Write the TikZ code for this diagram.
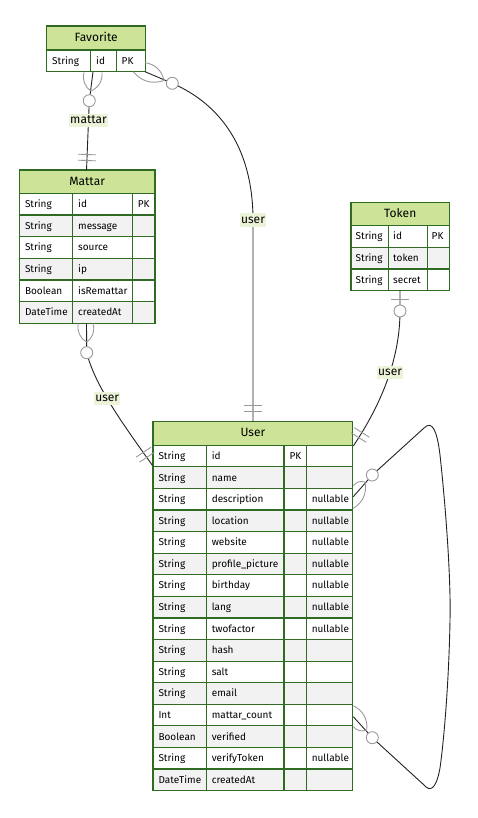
\documentclass[tikz,border=0pt]{standalone}
\usepackage{fontspec}
\setmainfont{Fira Sans}
\definecolor{hdr}{HTML}{CDE498}
\definecolor{bdr}{HTML}{2F6B22}
\definecolor{alt}{HTML}{F2F2F2}
\definecolor{mkc}{HTML}{9A9A9A}
\definecolor{lnc}{HTML}{222222}
\definecolor{lbl}{HTML}{EBF3D8}
\tikzset{
  cell/.style={draw=bdr, line width=1.2pt},
  ct/.style={anchor=base west, inner sep=0pt, font=\fontsize{10}{12}\selectfont, text=black},
  ht/.style={anchor=base, inner sep=0pt, font=\fontsize{12}{14}\selectfont, text=black},
  rel/.style={draw=lnc, line width=0.9pt},
  mk/.style={draw=mkc, line width=0.9pt},
  lab/.style={fill=lbl, inner xsep=1pt, inner ysep=1pt, text height=8.5pt, text depth=2.5pt,
              font=\fontsize{12}{14}\selectfont, text=black},
}
\newcommand\crowfoot[3]{\draw[mk] (#1) to[bend right=35] (#3); \draw[mk] (#2) to[bend left=35] (#3);}
\newcommand\ringmark[1]{\draw[mk, fill=white] (#1) circle (6pt);}
\newcommand\twobars[3]{\begin{scope}[shift={(#1,#2)}, rotate=-#3]
  \draw[mk] (10,-9) -- (10,9) (16,-9) -- (16,9);\end{scope}}
\begin{document}
\begin{tikzpicture}[x=1pt, y=-1pt]
\useasboundingbox (0,0) rectangle (478,818);

% ---------- Favorite ----------
\fill[hdr] (46.7,26) rectangle (145.7,50);
\draw[cell] (46.7,26) rectangle (145.7,50);
\node[ht] (fav) at (96.2,41.5) {Favorite};
\foreach \xa/\xb in {46.7/90.7, 90.7/116.3, 116.3/145.7}{\draw[cell, fill=white] (\xa,50) rectangle (\xb,71.7);}
\node[ct] (fav1a) at (52,64.2) {String};
\node[ct] (fav1b) at (96,64.2) {id};
\node[ct] (fav1c) at (121.5,64.2) {PK};

% ---------- Mattar ----------
\fill[hdr] (19.3,170) rectangle (155,193.3);
\draw[cell] (19.3,170) rectangle (155,193.3);
\node[ht] (mattar) at (87.1,185.2) {Mattar};
\foreach[count=\i] \ta/\tb/\tc in {String/id/PK, String/message/, String/source/, String/ip/, Boolean/isRemattar/, DateTime/createdAt/}{
  \pgfmathsetmacro\ya{193.3+(\i-1)*21.67}
  \pgfmathsetmacro\yb{\ya+21.67}
  \pgfmathsetmacro\yt{\ya+10.83+3.4}
  \ifodd\i\relax\def\fc{white}\else\def\fc{alt}\fi
  \foreach \xa/\xb in {19.3/72.7, 72.7/132.3, 132.3/155}{\draw[cell, fill=\fc] (\xa,\ya) rectangle (\xb,\yb);}
  \node[ct] (mat\i a) at (24.8,\yt) {\ta};
  \node[ct] (mat\i b) at (78,\yt) {\tb};
  \node[ct] (mat\i c) at (137.6,\yt) {\tc};
}

% ---------- Token ----------
\fill[hdr] (351,202.7) rectangle (449.3,225.7);
\draw[cell] (351,202.7) rectangle (449.3,225.7);
\node[ht] (token) at (400.2,217.6) {Token};
\foreach[count=\i] \ta/\tb/\tc in {String/id/PK, String/token/, String/secret/}{
  \pgfmathsetmacro\ya{225.7+(\i-1)*21.67}
  \pgfmathsetmacro\yb{\ya+21.67}
  \pgfmathsetmacro\yt{\ya+10.83+3.4}
  \ifodd\i\relax\def\fc{white}\else\def\fc{alt}\fi
  \foreach \xa/\xb in {351/388.3, 388.3/427.3, 427.3/449.3}{\draw[cell, fill=\fc] (\xa,\ya) rectangle (\xb,\yb);}
  \node[ct] (tok\i a) at (355.5,\yt) {\ta};
  \node[ct] (tok\i b) at (393,\yt) {\tb};
  \node[ct] (tok\i c) at (431.5,\yt) {\tc};
}

% ---------- User ----------
\fill[hdr] (153,421.7) rectangle (352.7,445.3);
\draw[cell] (153,421.7) rectangle (352.7,445.3);
\node[ht] (user) at (252.9,436.9) {User};
\foreach[count=\i] \ta/\tb/\tc/\td in {String/id/PK/, String/name//, String/description//nullable,
  String/location//nullable, String/website//nullable, String/profile\_picture//nullable,
  String/birthday//nullable, String/lang//nullable, String/twofactor//nullable, String/hash//,
  String/salt//, String/email//, Int/mattar\_count//, Boolean/verified//,
  String/verifyToken//nullable, DateTime/createdAt//}{
  \pgfmathsetmacro\ya{445.3+(\i-1)*21.58}
  \pgfmathsetmacro\yb{\ya+21.58}
  \pgfmathsetmacro\yt{\ya+10.79+3.4}
  \ifodd\i\relax\def\fc{white}\else\def\fc{alt}\fi
  \foreach \xa/\xb in {153/206.3, 206.3/284, 284/306.3, 306.3/352.7}{\draw[cell, fill=\fc] (\xa,\ya) rectangle (\xb,\yb);}
  \node[ct] (usr\i a) at (158.3,\yt) {\ta};
  \node[ct] (usr\i b) at (211.6,\yt) {\tb};
  \node[ct] (usr\i c) at (289.3,\yt) {\tc};
  \node[ct] (usr\i d) at (311.6,\yt) {\td};
}

% ---------- connector end points ----------
\coordinate (fm1) at (93,72);
\coordinate (fmC) at (89.3,100.7);
\coordinate (fm2) at (86.5,170.5);
\coordinate (fu1) at (145,71.7);
\coordinate (fuC) at (172.3,83.3);
\coordinate (fu2) at (253,421.7);
\coordinate (mu1) at (86.5,323.5);
\coordinate (muC) at (86.7,352.7);
\coordinate (mu2) at (152.5,465.5);
\coordinate (tu1) at (400,290.7);
\coordinate (tuC) at (400,311);
\coordinate (tu2) at (353.3,446);
\coordinate (uu1) at (353.3,496.7);
\coordinate (uuC1) at (372.3,475);
\coordinate (uu2) at (353.3,716.7);
\coordinate (uuC2) at (372.3,737.7);

% ---------- connectors ----------
\draw[rel] (fm1) -- (fmC) -- node[lab, pos=0.286] (lbl1) {mattar} (fm2);
\draw[rel] (fu1) -- (fuC) .. controls (222,105) and (253,150) .. (253,220) node[lab] (lbl2) {user} -- (fu2);
\draw[rel] (mu1) -- (muC) .. controls (95,385) and (120,420) .. node[lab, pos=0.45] (lbl3) {user} (mu2);
\draw[rel] (tu1) -- (tuC) .. controls (400,365) and (376,412) .. node[lab, pos=0.4] (lbl4) {user} (tu2);
\draw[rel] (uu1) -- (uuC1) -- (424,428) .. controls (432,420) and (437,430) .. (440,455)
  .. controls (446,510) and (451,580) .. (450,620) .. controls (449,680) and (444,740) .. (440,768)
  .. controls (436,790) and (430,792) .. (424,785) -- (uuC2) -- (uu2);

% ---------- markers ----------
\crowfoot{84,72.5}{102,72.5}{91,91}
\ringmark{fmC}
\twobars{86.5}{170.5}{-88}
\crowfoot{133.3,71.7}{145,62.7}{164,80.5}
\ringmark{fuC}
\twobars{253}{421.7}{-90}
\crowfoot{78.3,323.5}{93,323.5}{86.7,342}
\ringmark{muC}
\twobars{152.5}{465.5}{-123.7}
\draw[mk] (391,299.7) -- (409,299.7);
\ringmark{tuC}
\twobars{353.3}{446}{-57.8}
\crowfoot{353.3,508.3}{353.3,485.7}{365,482}
\ringmark{uuC1}
\crowfoot{353.3,726.7}{353.3,705.7}{366.7,730}
\ringmark{uuC2}
\end{tikzpicture}
\end{document}
